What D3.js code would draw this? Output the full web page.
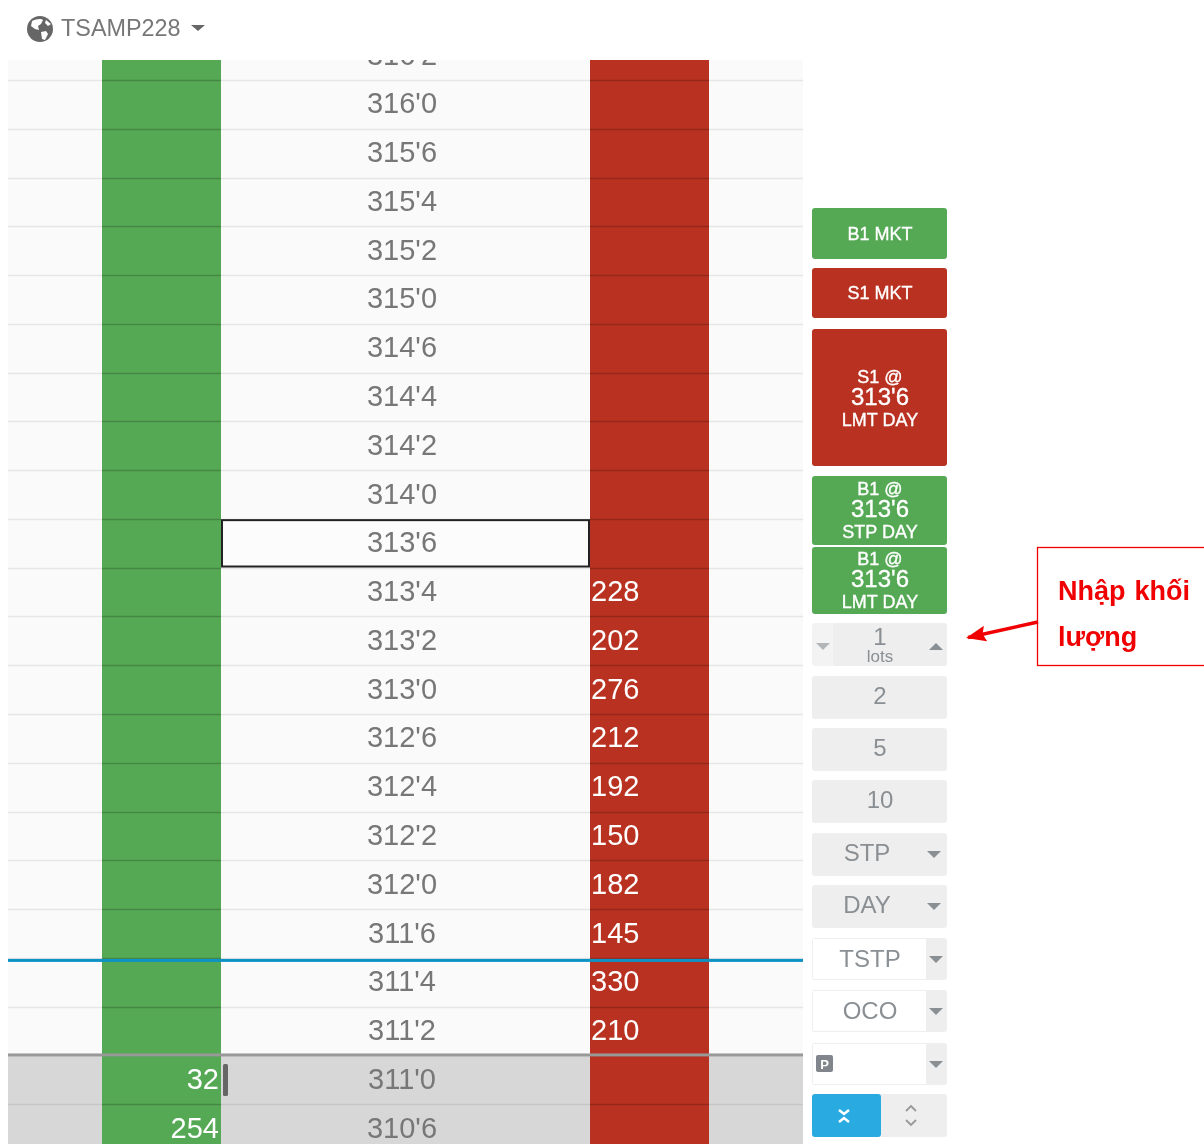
<!DOCTYPE html>
<html>
<head>
<meta charset="UTF-8">
<script src="https://d3js.org/d3.v7.min.js"></script>
<style>
  html, body { margin: 0; padding: 0; background: #fff; overflow: hidden; }
  text { font-family: "Liberation Sans", Arial, sans-serif; }
  svg { filter: blur(0.45px); }
</style>
</head>
<body>
<div id="ladder"></div>
<script>
// ladder data
const prices = ["316'2","316'0","315'6","315'4","315'2","315'0","314'6","314'4","314'2","314'0","313'6",
    "313'4","313'2","313'0","312'6","312'4","312'2","312'0","311'6","311'4","311'2","311'0","310'6"];
const askPrices = ["313'4","313'2","313'0","312'6","312'4","312'2","312'0","311'6","311'4","311'2"];
const askSizes = [228, 202, 276, 212, 192, 150, 182, 145, 330, 210];
const bidPrices = ["311'0","310'6"];
const bidSizes = [32, 254];
const workingPrice = "313'6";
const lowStart = "311'0";
const lastPrice = "311'4";

const symbol = "TSAMP228";
const lotChoices = ["2", "5", "10"];
const note = ["Nhập khối", "lượng"];

const green = "#55a955", red = "#b93221", grey = "#8a8f94", btn = "#eeeeee";

const svg = d3.select("#ladder").append("svg")
    .attr("width", 1204).attr("height", 1144).style("display", "block");

const defs = svg.append("defs");
defs.append("clipPath").attr("id", "tableClip").append("rect")
    .attr("x", 8).attr("y", 60).attr("width", 795).attr("height", 1084);
defs.append("marker").attr("id", "arrowHead").attr("markerUnits", "userSpaceOnUse")
    .attr("viewBox", "0 0 20 16").attr("refX", 18).attr("refY", 8)
    .attr("markerWidth", 20).attr("markerHeight", 16).attr("orient", "auto")
    .append("path").attr("d", "M0,0L20,8L0,16L3,8Z").attr("fill", "#f00000");

// rows
const y = d3.scaleBand().domain(prices).range([31.2, 1153]);
const h = y.bandwidth();
const table = svg.append("g").attr("clip-path", "url(#tableClip)");
const lowY = y(lowStart);

table.append("rect").attr("x", 8).attr("y", 60).attr("width", 795).attr("height", lowY - 60).attr("fill", "#fafafa");
table.append("rect").attr("x", 8).attr("y", lowY).attr("width", 795).attr("height", 1144 - lowY).attr("fill", "#d7d7d7");

// light row lines sit under the columns
table.selectAll("line.row").data(prices).join("line")
    .attr("class", "row")
    .attr("x1", 8).attr("x2", 803)
    .attr("y1", d => Math.round(y(d) + h) + 0.5).attr("y2", d => Math.round(y(d) + h) + 0.5)
    .attr("stroke", d => y(d) >= lowY ? "#c6c6c6" : "#e6e6e6").attr("stroke-width", 1.5);

// bid and ask columns
table.append("rect").attr("x", 102).attr("y", 60).attr("width", 119).attr("height", 1084).attr("fill", green);
table.append("rect").attr("x", 590).attr("y", 60).attr("width", 119).attr("height", 1084).attr("fill", red);

// dark row lines over the columns
[[102, 221], [590, 709]].forEach(c => {
    table.selectAll(null).data(prices).join("line")
        .attr("x1", c[0]).attr("x2", c[1])
        .attr("y1", d => Math.round(y(d) + h) + 0.5).attr("y2", d => Math.round(y(d) + h) + 0.5)
        .attr("stroke", "#000").attr("stroke-opacity", 0.2).attr("stroke-width", 1.5);
});

// working cell
table.append("rect").attr("x", 222).attr("y", y(workingPrice) + 1.2)
    .attr("width", 367).attr("height", h - 2.4)
    .attr("fill", "#fcfcfc").attr("stroke", "#222").attr("stroke-width", 2);

// last price and low lines
table.append("rect").attr("x", 8).attr("y", y(lastPrice) + 1).attr("width", 795).attr("height", 3).attr("fill", "#0d92c4");
table.append("rect").attr("x", 8).attr("y", lowY - 2).attr("width", 795).attr("height", 3).attr("fill", "#999");

table.selectAll("text.price").data(prices).join("text")
    .attr("class", "price")
    .attr("x", 402).attr("y", d => y(d) + h / 2 + 9)
    .attr("text-anchor", "middle").attr("font-size", 29).attr("fill", "#777")
    .text(d => d);

table.selectAll("text.ask").data(askSizes).join("text")
    .attr("class", "ask")
    .attr("x", 591).attr("y", (d, i) => y(askPrices[i]) + h / 2 + 9)
    .attr("font-size", 29).attr("fill", "#fff")
    .text(d => d);

table.selectAll("text.bid").data(bidSizes).join("text")
    .attr("class", "bid")
    .attr("x", 219).attr("y", (d, i) => y(bidPrices[i]) + h / 2 + 9)
    .attr("text-anchor", "end").attr("font-size", 29).attr("fill", "#fff")
    .text(d => d);

// cursor next to the inside bid
table.append("rect").attr("x", 223).attr("y", 1064).attr("width", 5).attr("height", 32).attr("rx", 1.5).attr("fill", "#666");

// header with globe
const globe = svg.append("g").attr("transform", "translate(40,29)");
globe.append("circle").attr("r", 13).attr("fill", "#666");
globe.append("path")
    .attr("d", "M-8,-8C-4,-10 1,-11 3,-9L1,-5L-2,-3L-1,1L-5,0L-9,-3ZM1,3L6,2L8,5L5,11L2,10ZM6,-9L11,-5L8,-3L5,-6Z")
    .attr("fill", "#fff");
svg.append("text").attr("x", 61).attr("y", 36).attr("font-size", 23.4).attr("fill", "#777").text(symbol);
svg.append("path").attr("d", d3.line()([[191, 25], [205, 25], [198, 31]]) + "Z").attr("fill", "#666");

// side panel
const panel = svg.append("g");
function box(yTop, yBottom, fill, x0, x1) {
    return panel.append("rect").attr("x", x0 || 812).attr("y", yTop)
        .attr("width", (x1 || 947) - (x0 || 812)).attr("height", yBottom - yTop)
        .attr("rx", 3).attr("fill", fill);
}
function label(str, x, yBase, size, fill, extra) {
    const t = panel.append("text").attr("x", x).attr("y", yBase).attr("text-anchor", "middle")
        .attr("font-size", size).attr("fill", fill).attr("font-weight", extra || "normal").text(str);
    // order buttons read a little heavier in the reference
    if (fill === "#fff" && !extra) t.attr("stroke", "#fff").attr("stroke-width", 0.35);
    return t;
}
function tri(cx, cy, up, fill) {
    const s = up ? -1 : 1;
    panel.append("path").attr("d", d3.line()([[cx - 7, cy - 3 * s], [cx + 7, cy - 3 * s], [cx, cy + 4 * s]]) + "Z").attr("fill", fill);
}

box(208, 259, green); label("B1 MKT", 880, 240, 18, "#fff");
box(268, 318, red); label("S1 MKT", 880, 299, 18, "#fff");
box(329, 466, red);
label("S1 @", 880, 383, 18, "#fff"); label("313'6", 880, 405, 24, "#fff"); label("LMT DAY", 880, 426, 18, "#fff");
box(476, 545, green);
label("B1 @", 880, 495, 18, "#fff"); label("313'6", 880, 517, 24, "#fff"); label("STP DAY", 880, 538, 18, "#fff");
box(547, 614, green);
label("B1 @", 880, 565, 18, "#fff"); label("313'6", 880, 587, 24, "#fff"); label("LMT DAY", 880, 608, 18, "#fff");

// lot size spinner
box(623, 666, "#f3f3f3");
panel.append("rect").attr("x", 833).attr("y", 623).attr("width", 114).attr("height", 43).attr("rx", 3).attr("fill", btn);
label("1", 880, 645, 24, grey); label("lots", 880, 662, 17, grey);
tri(823, 646, false, "#b3b6b9"); tri(936, 647, true, grey);

lotChoices.forEach((d, i) => {
    box(676 + i * 52, 719 + i * 52, btn);
    label(d, 880, 704 + i * 52, 24, grey);
});

box(833, 876, btn); label("STP", 867, 861, 24, grey); tri(934, 854, false, grey);
box(885, 928, btn); label("DAY", 867, 913, 24, grey); tri(934, 906, false, grey);

[[938, "TSTP"], [990, "OCO"], [1043, ""]].forEach(d => {
    box(d[0], d[0] + 42, btn);
    panel.append("rect").attr("x", 813).attr("y", d[0] + 1).attr("width", 113).attr("height", 40).attr("fill", "#fff");
    if (d[1]) label(d[1], 870, d[0] + 29, 24, grey);
    tri(936, d[0] + 21, false, grey);
});
panel.append("rect").attr("x", 816).attr("y", 1055).attr("width", 17).attr("height", 17).attr("rx", 2).attr("fill", "#80868b");
label("P", 824.5, 1069, 13, "#fff", "bold");

box(1094, 1137, btn);
box(1094, 1137, "#29abe2", 812, 881);
panel.append("path").attr("d", "M839,1110L844,1114L849,1110M839,1122L844,1118L849,1122")
    .attr("fill", "none").attr("stroke", "#fff").attr("stroke-width", 2.5);
panel.append("path").attr("d", "M906,1111L911,1106L916,1111M906,1120L911,1125L916,1120")
    .attr("fill", "none").attr("stroke", "#999").attr("stroke-width", 1.8);

// callout
svg.append("rect").attr("x", 1037.5).attr("y", 547.5).attr("width", 170).attr("height", 118)
    .attr("fill", "#fff").attr("stroke", "#f00000").attr("stroke-width", 1.3);
svg.selectAll("text.note").data(note).join("text")
    .attr("class", "note")
    .attr("x", 1058).attr("y", (d, i) => 599.5 + i * 46)
    .attr("font-size", 27).attr("font-weight", "bold").attr("fill", "#f00000")
    .attr("word-spacing", 1.5)
    .text(d => d);
svg.append("line").attr("x1", 1038).attr("y1", 622).attr("x2", 968).attr("y2", 637.5)
    .attr("stroke", "#f00000").attr("stroke-width", 3.5).attr("marker-end", "url(#arrowHead)");
</script>
</body>
</html>
